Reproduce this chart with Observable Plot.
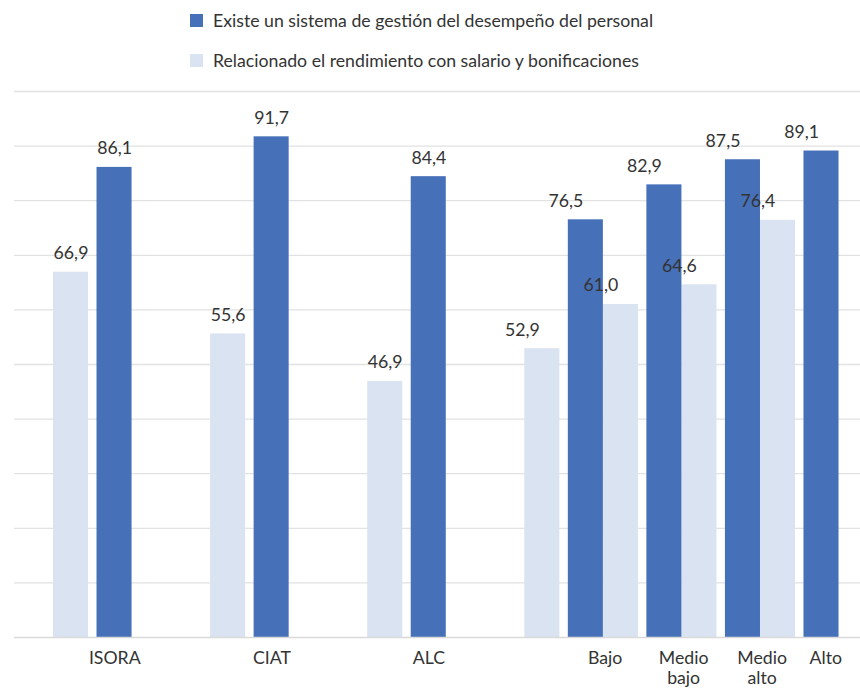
<!DOCTYPE html>
<html lang="es">
<head>
<meta charset="utf-8">
<script src="https://cdn.jsdelivr.net/npm/d3@7"></script>
<script src="https://cdn.jsdelivr.net/npm/@observablehq/plot@0.6"></script>
<style>
  html, body { margin: 0; padding: 0; background: #ffffff; }
  body { width: 860px; font-family: Lato, "Noto Sans", sans-serif; color: #333333; }
  .leyenda { height: 80px; padding-left: 190px; box-sizing: border-box; }
  .fila { display: flex; align-items: center; height: 40px; gap: 10px; font-size: 17.7px; }
  .muestra { width: 13px; height: 13px; flex: none; }
  #grafico svg { display: block; }
</style>
</head>
<body>
<div class="leyenda" id="leyenda"></div>
<div id="grafico"></div>
<script>
// Categorías: regiones y grupos de ingreso
const regiones = ["ISORA", "CIAT", "ALC"];
const ingresos = ["Bajo", "Medio bajo", "Medio alto", "Alto"];
const categorias = [...regiones, ...ingresos];
const etiquetasEje = ["ISORA", "CIAT", "ALC", "Bajo", "Medio\nbajo", "Medio\nalto", "Alto"];

// Porcentajes por serie
const existeSistema = [86.1, 91.7, 84.4, 76.5, 82.9, 87.5, 89.1];
const relacionadoSalario = [66.9, 55.6, 46.9, 52.9, 61.0, 64.6, 76.4];

// Nombres de las series y líneas de la cuadrícula
const series = [
  "Existe un sistema de gestión del desempeño del personal",
  "Relacionado el rendimiento con salario y bonificaciones"
];
const lineasGuia = [10, 20, 30, 40, 50, 60, 70, 80, 90, 100];

const azul = "#4670b8";
const celeste = "#dae3f1";

// Leyenda
const leyenda = document.getElementById("leyenda");
[[series[0], azul], [series[1], celeste]].forEach(([nombre, color]) => {
  const fila = document.createElement("div");
  fila.className = "fila";
  const muestra = document.createElement("span");
  muestra.className = "muestra";
  muestra.style.background = color;
  const texto = document.createElement("span");
  texto.textContent = nombre;
  fila.append(muestra, texto);
  leyenda.append(fila);
});

const filas = categorias.map((c, i) => ({
  categoria: c,
  etiqueta: etiquetasEje[i],
  existe: existeSistema[i],
  relacionado: relacionadoSalario[i],
  region: regiones.includes(c)
}));

// Cada región deja un hueco a su derecha; los grupos de ingreso van seguidos
const ranuras = [...regiones.flatMap(r => [r, r + "·hueco"]), ...ingresos];

const fmt = v => v.toFixed(1).replace(".", ",");
const esRegion = d => d.region;
const esIngreso = d => !d.region;
const texto = { fill: "#333333" };
const eje = { x: "categoria", text: "etiqueta", frameAnchor: "bottom", lineAnchor: "top", dy: 12, lineHeight: 1.15, fill: "#333333" };

const grafico = Plot.plot({
  width: 860,
  height: 609,
  marginTop: 11,
  marginBottom: 52,
  marginLeft: 14,
  marginRight: 0,
  style: { fontFamily: "Lato, 'Noto Sans', sans-serif", fontSize: "17.7px", color: "#333333", background: "#ffffff" },
  x: { domain: ranuras, paddingInner: 0, paddingOuter: 0.385, align: 0.645, round: false, axis: null },
  y: { domain: [0, 100], axis: null },
  marks: [
    Plot.ruleY(lineasGuia, { stroke: "#e2e2e2", strokeWidth: 1.3 }),
    Plot.barY(filas, { x: "categoria", y: "relacionado", fill: celeste, insetLeft: 0, insetRight: 43.5 }),
    Plot.barY(filas, { x: "categoria", y: "existe", fill: azul, insetLeft: 43.5, insetRight: 0 }),
    Plot.ruleY([0], { stroke: "#d9d9d9", strokeWidth: 1.5 }),

    // Valores sobre las barras
    Plot.text(filas, { ...texto, filter: esRegion, x: "categoria", y: "relacionado", text: d => fmt(d.relacionado), dx: -21.8, dy: -13, lineAnchor: "bottom" }),
    Plot.text(filas, { ...texto, filter: esRegion, x: "categoria", y: "existe", text: d => fmt(d.existe), dx: 21.8, dy: -13, lineAnchor: "bottom" }),
    Plot.text(filas, { ...texto, filter: esIngreso, x: "categoria", y: "relacionado", text: d => fmt(d.relacionado), dx: -41.8, dy: -13, lineAnchor: "bottom" }),
    Plot.text(filas, { ...texto, filter: esIngreso, x: "categoria", y: "existe", text: d => fmt(d.existe), dx: 1.8, dy: -13, lineAnchor: "bottom" }),

    // Etiquetas del eje de categorías
    Plot.text(filas, { ...eje, filter: esRegion, dx: 22 }),
    Plot.text(filas, { ...eje, filter: d => !d.region && d.categoria !== "Alto", dx: 41 }),
    Plot.text(filas, { ...eje, filter: d => d.categoria === "Alto", dx: 26 })
  ]
});

document.getElementById("grafico").append(grafico);
</script>
</body>
</html>
